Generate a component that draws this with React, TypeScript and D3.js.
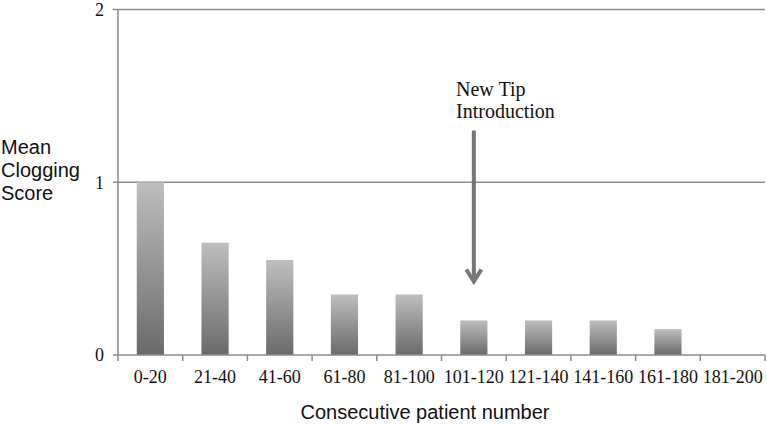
import React from "react"
import * as d3 from "d3"

// patient ranges on the x axis
const categories = [
  "0-20",
  "21-40",
  "41-60",
  "61-80",
  "81-100",
  "101-120",
  "121-140",
  "141-160",
  "161-180",
  "181-200",
]
// mean clogging score per range
const scores = [1.0, 0.65, 0.55, 0.35, 0.35, 0.2, 0.2, 0.2, 0.15, 0]
const yTicks = [0, 1, 2]
const yLabelLines = ["Mean", "Clogging", "Score"]
const xTitle = "Consecutive patient number"
const annotationLines = ["New Tip", "Introduction"]
const annotationCategory = "101-120"
const arrowFrom = 1.3
const arrowTo = 0.42

const W = 767
const H = 425
const left = 118
const right = 765
const top = 9.5
const bottom = 355

const serif = "'Liberation Serif', 'Times New Roman', serif"
const sans = "'Liberation Sans', Arial, Helvetica, sans-serif"

export default function App() {
  const x = d3
    .scaleBand<string>()
    .domain(categories)
    .range([left, right])
    .paddingInner(0.58)
    .paddingOuter(0.29)
  const y = d3.scaleLinear().domain([0, 2]).range([bottom, top])

  const step = x.step()
  const boundaries = d3.range(categories.length + 1).map((i) => left + i * step)
  const axisColor = "#8c8c8c"

  const ax = x(annotationCategory)! + x.bandwidth() / 2
  const ay1 = y(arrowFrom)
  const ay2 = y(arrowTo)

  return (
    <svg
      width={W}
      height={H}
      style={{ position: "absolute", left: 0, top: 0, background: "#fff" }}
    >
      <defs>
        <linearGradient id="barGrad" x1="0" y1="0" x2="0" y2="1">
          <stop offset="0%" stopColor="#bebebe" />
          <stop offset="100%" stopColor="#6a6a6a" />
        </linearGradient>
        <filter id="soft" x="-10%" y="-2%" width="120%" height="104%">
          <feGaussianBlur stdDeviation="0.6" />
        </filter>
      </defs>

      {/* gridlines */}
      {yTicks
        .filter((t) => t > 0)
        .map((t) => (
          <line
            key={"g" + t}
            x1={left}
            x2={right}
            y1={y(t)}
            y2={y(t)}
            stroke={axisColor}
            strokeWidth={1.5}
          />
        ))}

      {/* bars */}
      {scores.map((v, i) =>
        v > 0 ? (
          <rect
            key={categories[i]}
            x={x(categories[i])}
            y={y(v)}
            width={x.bandwidth()}
            height={bottom - y(v)}
            fill="url(#barGrad)"
            filter="url(#soft)"
          />
        ) : null
      )}

      {/* y axis */}
      <line x1={left} x2={left} y1={top} y2={bottom} stroke={axisColor} strokeWidth={1.5} />
      {yTicks.map((t) => (
        <g key={"y" + t}>
          <line x1={left - 5} x2={left} y1={y(t)} y2={y(t)} stroke={axisColor} strokeWidth={1.5} />
          <text
            x={104}
            y={y(t)}
            dy="0.35em"
            textAnchor="end"
            fontFamily={serif}
            fontSize={18}
            fill="#111"
          >
            {t}
          </text>
        </g>
      ))}

      {/* x axis */}
      <line x1={left} x2={right} y1={bottom} y2={bottom} stroke={axisColor} strokeWidth={1.5} />
      {boundaries.map((bx, i) => (
        <line key={"xt" + i} x1={bx} x2={bx} y1={bottom} y2={bottom + 6} stroke={axisColor} strokeWidth={1.5} />
      ))}
      {categories.map((c) => (
        <text
          key={"xl" + c}
          x={x(c)! + x.bandwidth() / 2}
          y={383}
          textAnchor="middle"
          fontFamily={serif}
          fontSize={18}
          fill="#111"
        >
          {c}
        </text>
      ))}

      {/* axis titles */}
      <text x={425} y={419} textAnchor="middle" fontFamily={sans} fontSize={20} fill="#111">
        {xTitle}
      </text>
      {yLabelLines.map((s, i) => (
        <text key={s} x={1} y={154 + i * 23} fontFamily={sans} fontSize={20} fill="#111">
          {s}
        </text>
      ))}

      {/* annotation */}
      {annotationLines.map((s, i) => (
        <text key={s} x={456} y={96 + i * 22} fontFamily={serif} fontSize={20} fill="#111">
          {s}
        </text>
      ))}
      <line x1={ax} x2={ax} y1={ay1} y2={ay2 - 2} stroke="#777" strokeWidth={4} />
      <polyline
        points={`${ax - 7.5},${ay2 - 13} ${ax},${ay2 - 1} ${ax + 7.5},${ay2 - 13}`}
        fill="none"
        stroke="#777"
        strokeWidth={4}
        strokeLinejoin="miter"
      />
    </svg>
  )
}
